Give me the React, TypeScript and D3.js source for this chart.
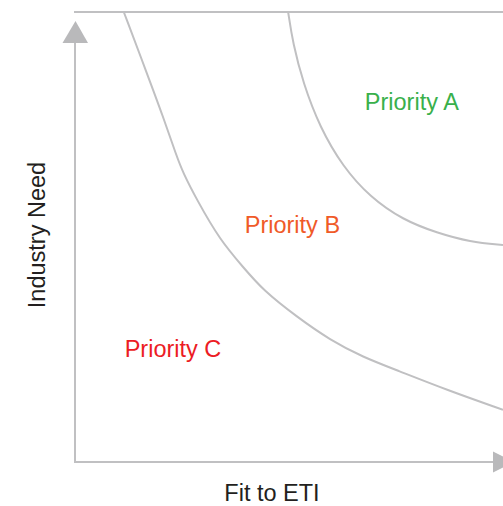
import React from 'react';
import * as d3 from 'd3';

// boundary curves, in "fit" (x) / "need" (y) units, 0..100
const curveAFit = [49.8, 50.9, 53.3, 57.2, 62.6, 68.9, 76.6, 84.6, 92.3, 100];
const curveANeed = [100, 93.1, 84.2, 74.4, 65.6, 58.9, 53.8, 50.9, 48.9, 48.2];
const curveBFit = [11.4, 16.8, 20.6, 23.8, 25.2, 28.5, 33.9, 39.3, 43.9, 51.9, 59.6, 67.3, 75.2, 86.9, 100];
const curveBNeed = [100, 86.4, 76.7, 67.8, 64.4, 58.2, 49.3, 43.3, 38.2, 32.2, 27.1, 23.3, 20.4, 16.0, 11.6];

const regionNames = ['Priority A', 'Priority B', 'Priority C'];
const xTitle = 'Fit to ETI';
const yTitle = 'Industry Need';

const W = 503;
const H = 506;

const App = () => {
    const svgRef = React.useRef<SVGSVGElement>(null);

    React.useEffect(() => {
        const svg = d3.select(svgRef.current);
        svg.selectAll('*').remove();

        const x = d3.scaleLinear().domain([0, 100]).range([75, 503]);
        const y = d3.scaleLinear().domain([0, 100]).range([462, 12]);
        const grey = '#c0c0c2';
        const font = 'Liberation Sans, Arial, sans-serif';

        // basis smooths out the small bumps of hand-read points
        const line = d3.line<[number, number]>()
            .x(d => x(d[0]))
            .y(d => y(d[1]))
            .curve(d3.curveBasis);

        const curves = [
            d3.zip(curveAFit, curveANeed) as [number, number][],
            d3.zip(curveBFit, curveBNeed) as [number, number][],
        ];

        // top border
        svg.append('line')
            .attr('x1', x(0) - 1).attr('x2', x(100))
            .attr('y1', y(100)).attr('y2', y(100))
            .attr('stroke', grey).attr('stroke-width', 2);

        svg.selectAll('.boundary')
            .data(curves)
            .join('path')
            .attr('class', 'boundary')
            .attr('d', d => line(d))
            .attr('fill', 'none')
            .attr('stroke', grey)
            .attr('stroke-width', 2);

        // axes with arrow heads
        const ax = x(0), ay = y(0);
        svg.append('line')
            .attr('x1', ax).attr('x2', ax)
            .attr('y1', ay + 1).attr('y2', 42)
            .attr('stroke', grey).attr('stroke-width', 2);
        svg.append('path')
            .attr('d', `M${ax - 12.5},43 L${ax + 0.5},21 L${ax + 13},43 Z`)
            .attr('fill', '#b9b9bb');
        svg.append('line')
            .attr('x1', ax).attr('x2', 493)
            .attr('y1', ay).attr('y2', ay)
            .attr('stroke', grey).attr('stroke-width', 2);
        svg.append('path')
            .attr('d', `M493,${ay - 10.5} L514,${ay} L493,${ay + 10.5} Z`)
            .attr('fill', '#b9b9bb');

        const labelColors = ['#39b04b', '#f05a28', '#ec1c24'];
        const labelPos = [[78.7, 78.2], [50.8, 50.9], [22.9, 23.3]];
        svg.selectAll('.region')
            .data(regionNames)
            .join('text')
            .attr('class', 'region')
            .attr('x', (d, i) => x(labelPos[i][0]))
            .attr('y', (d, i) => y(labelPos[i][1]))
            .attr('text-anchor', 'middle')
            .attr('font-family', font)
            .attr('font-size', 23.5)
            .attr('fill', (d, i) => labelColors[i])
            .text(d => d);

        svg.append('text')
            .attr('x', 272).attr('y', 501)
            .attr('text-anchor', 'middle')
            .attr('font-family', font).attr('font-size', 23.5)
            .attr('fill', '#231f20')
            .text(xTitle);

        svg.append('text')
            .attr('transform', 'translate(45,235) rotate(-90)')
            .attr('text-anchor', 'middle')
            .attr('font-family', font).attr('font-size', 23.5)
            .attr('fill', '#231f20')
            .text(yTitle);
    }, []);

    return (
        <svg ref={svgRef} width={W} height={H}
            style={{ position: 'absolute', left: 0, top: 0, background: '#fff' }} />
    );
};

export default App;
